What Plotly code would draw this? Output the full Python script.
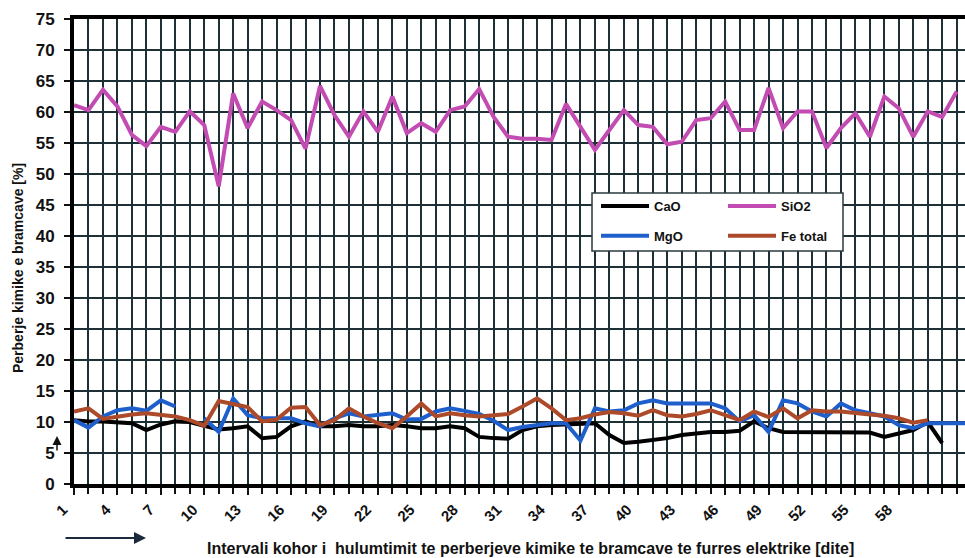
import plotly.graph_objects as go

# Daily chemical composition of electric-furnace slag [%]
days = list(range(1, 64))
tick_days = [1, 4, 7, 10, 13, 16, 19, 22, 25, 28, 31, 34, 37, 40, 43, 46, 49, 52, 55, 58]
y_ticks = [0, 5, 10, 15, 20, 25, 30, 35, 40, 45, 50, 55, 60, 65, 70, 75]

cao = [10.3, 10.1, 10.1, 10.0, 9.8, 8.7, 9.6, 10.1, 10.0, 9.4,
       8.8, 9.0, 9.3, 7.4, 7.6, 9.3, 10.1, 9.3, 9.3, 9.5,
       9.3, 9.3, 9.5, 9.3, 9.0, 9.0, 9.3, 9.0, 7.6, 7.4,
       7.3, 8.7, 9.3, 9.5, 9.6, 9.6, 9.8, 7.9, 6.6, 6.8,
       7.1, 7.4, 7.9, 8.2, 8.4, 8.4, 8.6, 10.1, 9.0, 8.4,
       8.4, 8.4, 8.4, 8.4, 8.4, 8.3, 7.6, 8.2, 8.7, 10.0,
       6.6]

sio2 = [61.1, 60.3, 63.6, 60.9, 56.3, 54.5, 57.6, 56.8, 60.1, 57.9,
        48.0, 63.0, 57.4, 61.7, 60.3, 58.7, 54.1, 64.2, 59.5, 56.0,
        60.1, 56.8, 62.5, 56.6, 58.2, 56.8, 60.3, 60.9, 63.7, 59.2,
        56.0, 55.7, 55.7, 55.5, 61.3, 57.6, 53.9, 57.1, 60.3, 57.9,
        57.6, 54.8, 55.2, 58.7, 59.0, 61.7, 57.1, 57.1, 63.9, 57.4,
        60.1, 60.1, 54.2, 57.4, 59.8, 56.0, 62.5, 60.6, 56.0, 60.1,
        59.2, 63.3]

mgo = [10.3, 9.1, 10.9, 11.9, 12.2, 11.8, 13.5, 12.5, None, 10.6,
       8.4, 13.8, 11.1, 10.6, 10.6, 10.6, 9.8, 9.3, 10.6, 11.4,
       10.9, 11.1, 11.4, 10.4, 10.5, 11.7, 12.2, 11.8, 11.3, 10.2,
       8.7, 9.2, 9.5, 9.8, 9.8, 7.0, 12.2, 11.7, 11.9, 13.0,
       13.5, 13.0, 13.0, 13.0, 13.0, 12.2, 10.1, 11.1, 8.4, 13.5,
       13.0, 11.7, 10.9, 13.0, 11.9, 11.4, 10.9, 9.5, 9.0, 9.8,
       9.8, 9.8, 9.8]

fe_total = [11.7, 12.2, 10.5, 10.9, 11.2, 11.4, 11.1, 10.9, 10.3, 9.4,
            13.4, 12.9, 12.4, 10.1, 10.4, 12.3, 12.4, 9.5, 10.3, 12.2,
            10.9, 9.8, 9.0, 10.9, 13.0, 10.9, 11.4, 11.1, 10.9, 11.1,
            11.3, 12.5, 13.8, 12.2, 10.3, 10.6, 11.2, 11.6, 11.4, 11.0,
            11.9, 11.1, 10.9, 11.3, 11.9, 11.1, 10.3, 11.7, 10.8, 12.2,
            10.6, 11.9, 11.7, 11.7, 11.4, 11.2, 11.0, 10.6, 9.9, 10.3]

FONT = "Liberation Sans Narrow, Arial Narrow, Liberation Sans, Arial, sans-serif"
GRID = "#1d3035"

# plot-area geometry (pixels)
W, H = 965, 558
L, R, T, B = 74, 0, 19, 74
PW, PH = W - L - R, H - T - B
PX_PER_DAY = 14.47


def px(xp):
    return (xp - L) / PW


def py(yp):
    return (H - B - yp) / PH


series = [
    ("CaO", cao, "#000000", "legend", "g1"),
    ("SiO2", sio2, "#c24cb2", "legend2", "g2"),
    ("MgO", mgo, "#1f5fcc", "legend", "g3"),
    ("Fe total", fe_total, "#ad4a2a", "legend2", "g4"),
]

fig = go.Figure()
for name, vals, color, leg, grp in series:
    fig.add_trace(go.Scatter(
        x=days[:len(vals)], y=vals, name=name, mode="lines",
        line=dict(color=color, width=4),
        legend=leg, legendgroup=grp, connectgaps=False,
    ))

legend_common = dict(
    bgcolor="rgba(0,0,0,0)", borderwidth=0, orientation="v",
    font=dict(family=FONT, size=13, color="#111", weight="bold"),
    itemwidth=48, tracegroupgap=10, yanchor="top", xanchor="left",
)

fig.update_layout(
    width=W, height=H,
    margin=dict(l=L, r=R, t=T, b=B, pad=0),
    paper_bgcolor="white", plot_bgcolor="white",
    showlegend=True,
    legend=dict(x=px(596), y=py(191), **legend_common),
    legend2=dict(x=px(723), y=py(191), **legend_common),
    xaxis=dict(
        range=[1, 1 + PW / PX_PER_DAY],
        tickmode="array", tickvals=tick_days, ticktext=[str(d) for d in tick_days],
        tickangle=-45, ticks="outside", ticklen=7, tickcolor="#111", tickwidth=1.5,
        ticklabelshift=-11,
        tickfont=dict(family=FONT, size=15, color="#111", weight="bold"),
        showgrid=True, gridcolor=GRID, gridwidth=2,
        minor=dict(tickmode="linear", tick0=1, dtick=1, showgrid=True,
                   gridcolor=GRID, gridwidth=2, ticks="outside", ticklen=6,
                   tickcolor="#111", tickwidth=1.5),
        showline=True, linecolor="black", linewidth=4, mirror=True,
        zeroline=False,
    ),
    yaxis=dict(
        range=[0, 75], tickmode="array", tickvals=y_ticks,
        ticks="outside", ticklen=6, tickcolor="#111", tickwidth=2,
        ticklabelstandoff=6,
        tickfont=dict(family=FONT, size=17, color="#111", weight="bold"),
        showgrid=True, gridcolor=GRID, gridwidth=2,
        showline=True, linecolor="black", linewidth=4, mirror=False,
        zeroline=False,
    ),
    shapes=[
        dict(type="rect", xref="paper", yref="paper",
             x0=px(592), x1=px(843), y0=py(251), y1=py(193),
             fillcolor="white", line=dict(color="#2b3a40", width=1.5),
             layer="above"),
    ],
    annotations=[
        dict(text="Perberje kimike e bramcave [%]", xref="paper", yref="paper",
             x=px(18), y=py(268), xanchor="center", yanchor="middle",
             textangle=-90, showarrow=False,
             font=dict(family=FONT, size=14, color="#111", weight="bold")),
        dict(text="Intervali kohor i  hulumtimit te perberjeve kimike te bramcave te furres elektrike [dite]",
             xref="paper", yref="paper", x=px(530), y=py(549),
             xanchor="center", yanchor="middle", showarrow=False,
             font=dict(family=FONT, size=16, color="#111", weight="bold")),
        dict(text="", xref="paper", yref="paper", x=px(146), y=py(538),
             ax=-82, ay=0, showarrow=True, arrowhead=2, arrowsize=1.2,
             arrowwidth=2, arrowcolor="#1c2a3e"),
        dict(text="", xref="paper", yref="paper", x=px(57), y=py(436),
             ax=0, ay=16, showarrow=True, arrowhead=2, arrowsize=1.2,
             arrowwidth=1.5, arrowcolor="#111"),
    ],
)

fig.write_html("out.html")
